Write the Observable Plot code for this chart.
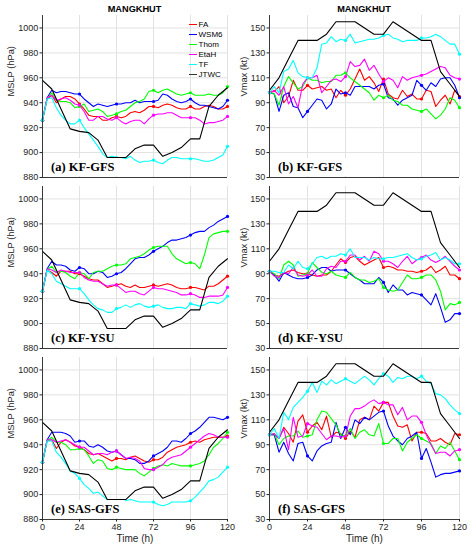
<!DOCTYPE html>
<html><head><meta charset="utf-8">
<script src="https://cdn.jsdelivr.net/npm/d3@7"></script>
<script src="https://cdn.jsdelivr.net/npm/@observablehq/plot@0.6"></script>
<style>
body{margin:0;background:#fff;}
#wrap{position:relative;width:476px;height:550px;overflow:hidden;font-family:"Liberation Sans",Arial,sans-serif;color:#262626;}
.pn{position:absolute;}
.title{position:absolute;top:3px;height:12px;line-height:12px;text-align:center;font-weight:bold;font-size:9.2px;color:#000;}
.plab{position:absolute;background:#fff;font-family:"Liberation Serif","DejaVu Serif",serif;font-weight:bold;font-size:12.5px;line-height:18px;height:18px;padding:0 6px 0 8px;color:#000;white-space:nowrap;}
.leg{position:absolute;left:189px;top:19.8px;font-size:8px;color:#000;}
.leg div{display:flex;align-items:center;height:9.9px;}
.leg span.sw{display:inline-block;width:8px;height:0;border-top:1.2px solid;margin-right:1.5px;}
</style></head><body><div id="wrap"></div>
<script>
// ---- data ----
const hours = d3.range(0, 121, 3);          // model output every 3 h
const jtwcHours = d3.range(0, 121, 6);      // best track every 6 h
const xTicks = [0, 24, 48, 72, 96, 120];
const mslpTicks = [880, 900, 920, 940, 960, 980, 1000];
const vmaxTicks = [30, 50, 70, 90, 110, 130, 150];
const models = ["FA", "WSM6", "Thom", "EtaH", "TF", "JTWC"];
const colors = ["#ff0000", "#0000ff", "#00ff00", "#ff00ff", "#00ffff", "#000000"];
const panelLabels = ["(a) KF-GFS", "(b) KF-GFS", "(c) KF-YSU", "(d) KF-YSU", "(e) SAS-GFS", "(f) SAS-GFS"];

const jtwcMslp = [958,951,935,919,917,916,910,896,896,896,903,906,906,897,900,904,911,911,937,946,952];
const jtwcVmax = [100,110,125,140,140,140,145,155,155,155,150,145,145,155,150,145,140,140,115,105,95];

// (a) KF-GFS MSLP
const mslpA_FA   = [926,943,946,940,943,945,945,943,939,935,930,929,929,926,926,928,929,928,929,932,933,932,934,937,937,936,938,939,938,936,935,935,937,935,935,937,938,937,935,935,937];
const mslpA_WSM6 = [926,944,950,948,949,949,948,947,947,943,940,937,939,938,937,938,939,939,940,940,942,940,941,941,941,942,947,946,943,941,940,941,943,940,938,938,937,936,935,937,942];
const mslpA_Thom = [926,943,948,942,941,941,940,936,937,939,933,934,935,933,929,930,931,933,934,937,940,941,943,949,950,948,950,951,949,947,946,947,948,946,946,946,947,946,946,948,953];
const mslpA_EtaH = [926,944,946,942,943,944,942,939,938,933,926,926,929,929,927,926,928,925,923,925,926,926,923,927,930,931,931,932,932,930,928,928,928,928,926,923,924,924,925,926,929];
const mslpA_TF   = [926,943,944,936,930,926,923,923,926,920,915,910,905,899,896,897,896,896,895,897,894,892,893,893,894,892,891,894,896,896,895,895,895,895,894,893,893,894,896,898,905];

// (b) KF-GFS Vmax
const vmaxB_FA   = [98,99,103,90,95,108,100,100,104,101,102,103,100,101,94,100,96,101,109,117,108,111,106,99,109,97,94,93,100,95,97,93,93,100,99,87,92,96,89,100,95];
const vmaxB_WSM6 = [98,97,83,96,98,87,86,78,83,88,93,92,85,89,101,97,98,96,103,103,103,103,101,104,105,94,93,88,92,94,96,108,104,100,106,103,109,110,110,104,94];
const vmaxB_Thom = [98,97,88,103,111,106,101,103,110,108,108,106,107,107,112,112,114,110,107,104,101,98,92,96,94,96,92,91,88,88,85,84,83,85,81,77,80,85,94,92,86];
const vmaxB_EtaH = [98,100,96,103,89,95,86,105,110,110,112,98,103,108,109,107,111,123,119,120,125,116,120,113,107,110,108,102,111,108,110,111,112,113,115,117,119,118,112,110,109];
const vmaxB_TF   = [98,103,98,115,117,124,114,111,110,110,118,137,138,143,139,141,140,145,138,139,140,141,141,142,144,145,142,141,139,140,140,140,142,142,143,145,143,140,137,137,129];

// (c) KF-YSU MSLP
const mslpC_FA   = [926,943,941,938,942,942,942,940,940,938,936,935,935,932,929,930,931,932,930,929,931,929,929,930,931,930,931,932,931,929,928,928,929,929,928,927,930,930,932,935,938];
const mslpC_WSM6 = [926,944,950,947,947,946,943,942,945,944,940,940,942,941,937,938,940,941,944,948,952,953,953,955,958,960,962,965,967,967,968,969,971,973,974,974,977,979,982,984,986];
const mslpC_Thom = [926,943,946,941,942,941,938,936,941,940,936,941,942,942,944,946,947,947,948,952,953,954,956,959,961,962,962,962,956,952,950,948,949,948,944,955,969,972,973,974,974];
const mslpC_EtaH = [926,944,943,941,943,942,941,941,941,937,935,934,934,932,930,931,931,928,925,926,926,924,923,926,929,928,928,927,926,925,923,923,924,923,921,921,922,922,922,923,929];
const mslpC_TF   = [926,943,940,934,932,930,928,928,928,924,919,915,912,911,909,909,912,913,915,913,915,916,914,913,914,915,913,912,912,913,913,912,916,915,914,915,917,917,916,918,922];

// (d) KF-YSU Vmax
const vmaxD_FA   = [92,89,88,90,92,93,91,90,90,89,88,89,89,92,97,102,99,103,104,100,97,99,101,103,95,96,95,93,93,92,92,91,92,93,96,91,93,96,89,89,86];
const vmaxD_WSM6 = [92,89,84,91,89,87,86,86,87,89,93,95,95,92,93,93,93,90,87,85,82,82,82,87,83,75,81,77,77,73,75,74,73,69,65,74,63,51,53,58,58];
const vmaxD_Thom = [92,90,86,97,100,97,88,89,90,99,95,91,90,92,89,88,87,91,87,85,85,83,84,86,79,77,76,77,83,89,86,86,87,89,89,85,76,61,66,65,67];
const vmaxD_EtaH = [92,88,87,91,90,95,89,88,89,93,88,88,94,96,95,100,100,105,105,101,104,100,108,106,100,100,98,95,100,104,98,101,103,105,101,99,101,104,100,96,93];
const vmaxD_TF   = [92,92,91,91,97,94,100,95,94,98,103,104,102,104,104,106,105,110,103,103,103,101,103,102,102,103,103,104,105,106,103,101,102,104,105,107,101,103,101,98,98];

// (e) SAS-GFS MSLP
const mslpE_FA   = [926,943,944,937,942,944,942,939,938,936,933,932,933,931,929,927,929,929,928,930,931,929,927,926,928,928,930,934,936,938,939,940,942,943,942,944,945,946,946,946,947];
const mslpE_WSM6 = [926,944,950,950,950,949,947,942,943,943,939,938,940,938,935,934,935,932,929,929,928,925,925,927,931,933,935,938,943,943,942,945,949,951,954,958,962,962,961,960,962];
const mslpE_Thom = [926,943,946,942,942,940,936,936,937,936,931,925,928,927,921,920,922,921,920,920,920,917,915,918,921,923,924,923,925,924,923,923,923,924,925,927,932,938,941,945,950];
const mslpE_EtaH = [926,944,944,942,943,944,942,940,938,938,935,932,933,933,932,934,935,932,929,930,929,927,921,920,920,922,924,928,930,931,932,935,938,941,944,947,949,948,946,946,946];
const mslpE_TF   = [926,943,943,934,930,925,919,917,913,908,905,901,902,899,896,895,895,894,895,896,895,894,894,894,894,892,891,892,894,894,894,894,895,898,902,906,911,912,914,918,922];

// (f) SAS-GFS Vmax
const vmaxF_FA   = [98,98,95,104,99,92,109,114,100,105,108,102,113,96,100,99,95,101,96,110,112,110,121,117,124,124,113,105,104,106,93,100,100,99,93,93,95,92,90,99,98];
const vmaxF_WSM6 = [98,98,84,92,83,77,91,92,81,77,85,89,91,92,108,95,104,98,110,107,112,110,113,116,117,105,97,93,90,95,97,100,79,87,76,64,66,67,67,68,69];
const vmaxF_Thom = [98,99,90,95,97,97,101,96,97,98,110,117,116,111,106,98,97,103,95,100,102,98,97,107,91,91,95,95,85,92,95,98,95,93,91,83,89,87,92,85,78];
const vmaxF_EtaH = [98,99,95,103,86,112,96,97,107,105,104,99,94,97,97,96,97,113,119,119,121,124,126,123,124,122,122,114,120,110,113,113,108,98,90,83,84,84,81,85,86];
const vmaxF_TF   = [98,103,95,116,110,120,124,128,133,140,132,141,138,142,139,141,143,141,139,142,145,142,138,143,147,145,140,144,143,145,145,143,145,141,139,131,130,127,122,118,115];

// ---- layout ----
const wrap = document.getElementById("wrap");
const frameTops = [15, 186, 357];
const plotH = 162;
const colCfg = [
  {left: 0, mL: 42, w: 185, domain: [880, 1010], ticks: mslpTicks, label: "MSLP (hPa)", lOff: 31},
  {left: 233, mL: 36, w: 190, domain: [30, 160], ticks: vmaxTicks, label: "Vmax (kt)", lOff: 25}
];
const panels = [
  {row: 0, col: 0, series: [mslpA_FA, mslpA_WSM6, mslpA_Thom, mslpA_EtaH, mslpA_TF], jtwc: jtwcMslp},
  {row: 0, col: 1, series: [vmaxB_FA, vmaxB_WSM6, vmaxB_Thom, vmaxB_EtaH, vmaxB_TF], jtwc: jtwcVmax},
  {row: 1, col: 0, series: [mslpC_FA, mslpC_WSM6, mslpC_Thom, mslpC_EtaH, mslpC_TF], jtwc: jtwcMslp},
  {row: 1, col: 1, series: [vmaxD_FA, vmaxD_WSM6, vmaxD_Thom, vmaxD_EtaH, vmaxD_TF], jtwc: jtwcVmax},
  {row: 2, col: 0, series: [mslpE_FA, mslpE_WSM6, mslpE_Thom, mslpE_EtaH, mslpE_TF], jtwc: jtwcMslp},
  {row: 2, col: 1, series: [vmaxF_FA, vmaxF_WSM6, vmaxF_Thom, vmaxF_EtaH, vmaxF_TF], jtwc: jtwcVmax}
];

panels.forEach((p, idx) => {
  const c = colCfg[p.col];
  const bottomRow = p.row === 2;
  const mT = 2, mB = bottomRow ? 32 : 4, mR = 3;
  const rows = [];
  p.series.forEach((vals, k) => vals.forEach((v, i) => rows.push({t: hours[i], v, model: models[k]})));
  const jt = p.jtwc.map((v, i) => ({t: jtwcHours[i], v, model: "JTWC"}));
  const marks = [
    Plot.gridX(xTicks, {stroke: "#e2e2e2", strokeOpacity: 1}),
    Plot.gridY(c.ticks, {stroke: "#e2e2e2", strokeOpacity: 1}),
    Plot.line(rows, {x: "t", y: "v", z: "model", stroke: "model", strokeWidth: 1.1}),
    Plot.dot(rows.filter(d => d.t % 24 === 0), {x: "t", y: "v", fill: "model", r: 1.6}),
    Plot.line(jt, {x: "t", y: "v", stroke: "model", strokeWidth: 1.1}),
    Plot.ruleX([0], {stroke: "#262626", strokeWidth: 0.9}),
    Plot.ruleY([c.domain[0]], {stroke: "#262626", strokeWidth: 0.9}),
    Plot.axisY({ticks: c.ticks, tickSize: 2.5, tickPadding: 1.8, tickFormat: d => String(d), label: null, fill: "#262626", stroke: "#262626", fontSize: 9}),
    Plot.text([c.label], {frameAnchor: "left", dx: -c.lOff, rotate: -90, fill: "#262626", fontSize: 9.3})
  ];
  if (bottomRow) {
    marks.push(Plot.axisX({ticks: xTicks, tickSize: 2.5, tickPadding: 2, tickFormat: d => String(d), label: null, fill: "#262626", stroke: "#262626", fontSize: 9}));
    marks.push(Plot.text(["Time (h)"], {frameAnchor: "bottom", dy: 22, fill: "#262626", fontSize: 10}));
  }
  const chart = Plot.plot({
    width: c.mL + c.w + mR,
    height: mT + plotH + mB,
    marginLeft: c.mL, marginRight: mR, marginTop: mT, marginBottom: mB,
    x: {domain: [0, 120], axis: null},
    y: {domain: c.domain, axis: null},
    color: {domain: models, range: colors},
    style: {fontFamily: "Liberation Sans, Arial, sans-serif", fontSize: "9px", background: "transparent", overflow: "visible", color: "#262626"},
    marks
  });
  chart.classList.add("pn");
  chart.style.left = c.left + "px";
  chart.style.top = (frameTops[p.row] - mT) + "px";
  wrap.appendChild(chart);

  const lab = document.createElement("div");
  lab.className = "plab";
  lab.textContent = panelLabels[idx];
  lab.style.left = (c.left + c.mL + 1) + "px";
  lab.style.top = (frameTops[p.row] + plotH - 19) + "px";
  wrap.appendChild(lab);
});

// titles
colCfg.forEach(c => {
  const t = document.createElement("div");
  t.className = "title";
  t.textContent = "MANGKHUT";
  t.style.left = (c.left + c.mL) + "px";
  t.style.width = c.w + "px";
  wrap.appendChild(t);
});

// legend
const leg = document.createElement("div");
leg.className = "leg";
models.forEach((m, i) => {
  const r = document.createElement("div");
  const sw = document.createElement("span");
  sw.className = "sw";
  sw.style.borderTopColor = colors[i] === "#000000" ? "#333" : colors[i];
  const tx = document.createElement("span");
  tx.textContent = m;
  r.appendChild(sw); r.appendChild(tx);
  leg.appendChild(r);
});
wrap.appendChild(leg);
</script></body></html>
